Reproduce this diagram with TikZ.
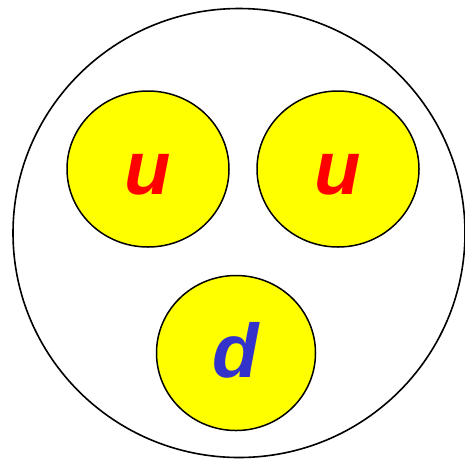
\documentclass[tikz,border=0pt]{standalone}
\usepackage{fontspec}
\setmainfont{Liberation Sans}
\usetikzlibrary{shapes.geometric,positioning}
\definecolor{quarkyellow}{RGB}{255,255,0}
\definecolor{upred}{RGB}{255,0,0}
\definecolor{downblue}{RGB}{51,51,204}

\begin{document}
\begin{tikzpicture}[
    x=1pt, y=-1pt,
    hadron/.style={ellipse, draw=black, line width=1.6pt, inner sep=0pt,
                   minimum width=452pt, minimum height=449pt},
    quark/.style={ellipse, draw=black, fill=quarkyellow, line width=1.5pt, inner sep=0pt,
                  minimum width=162pt, minimum height=156pt,
                  font=\fontsize{76}{76}\selectfont\bfseries\itshape}
]
\useasboundingbox (0,0) rectangle (465,459);
\node[hadron] (proton) at (239,233) {};
\node[quark, text=upred, text height=50pt, text depth=0pt] (u1) at (148,169) {u};
\node[quark, text=upred, text height=50pt, text depth=0pt] (u2) at (338,169) {u};
\node[quark, text=downblue, text depth=7pt,
      minimum width=159pt, minimum height=155pt] (d1) at (236,353) {d};
\end{tikzpicture}
\end{document}
